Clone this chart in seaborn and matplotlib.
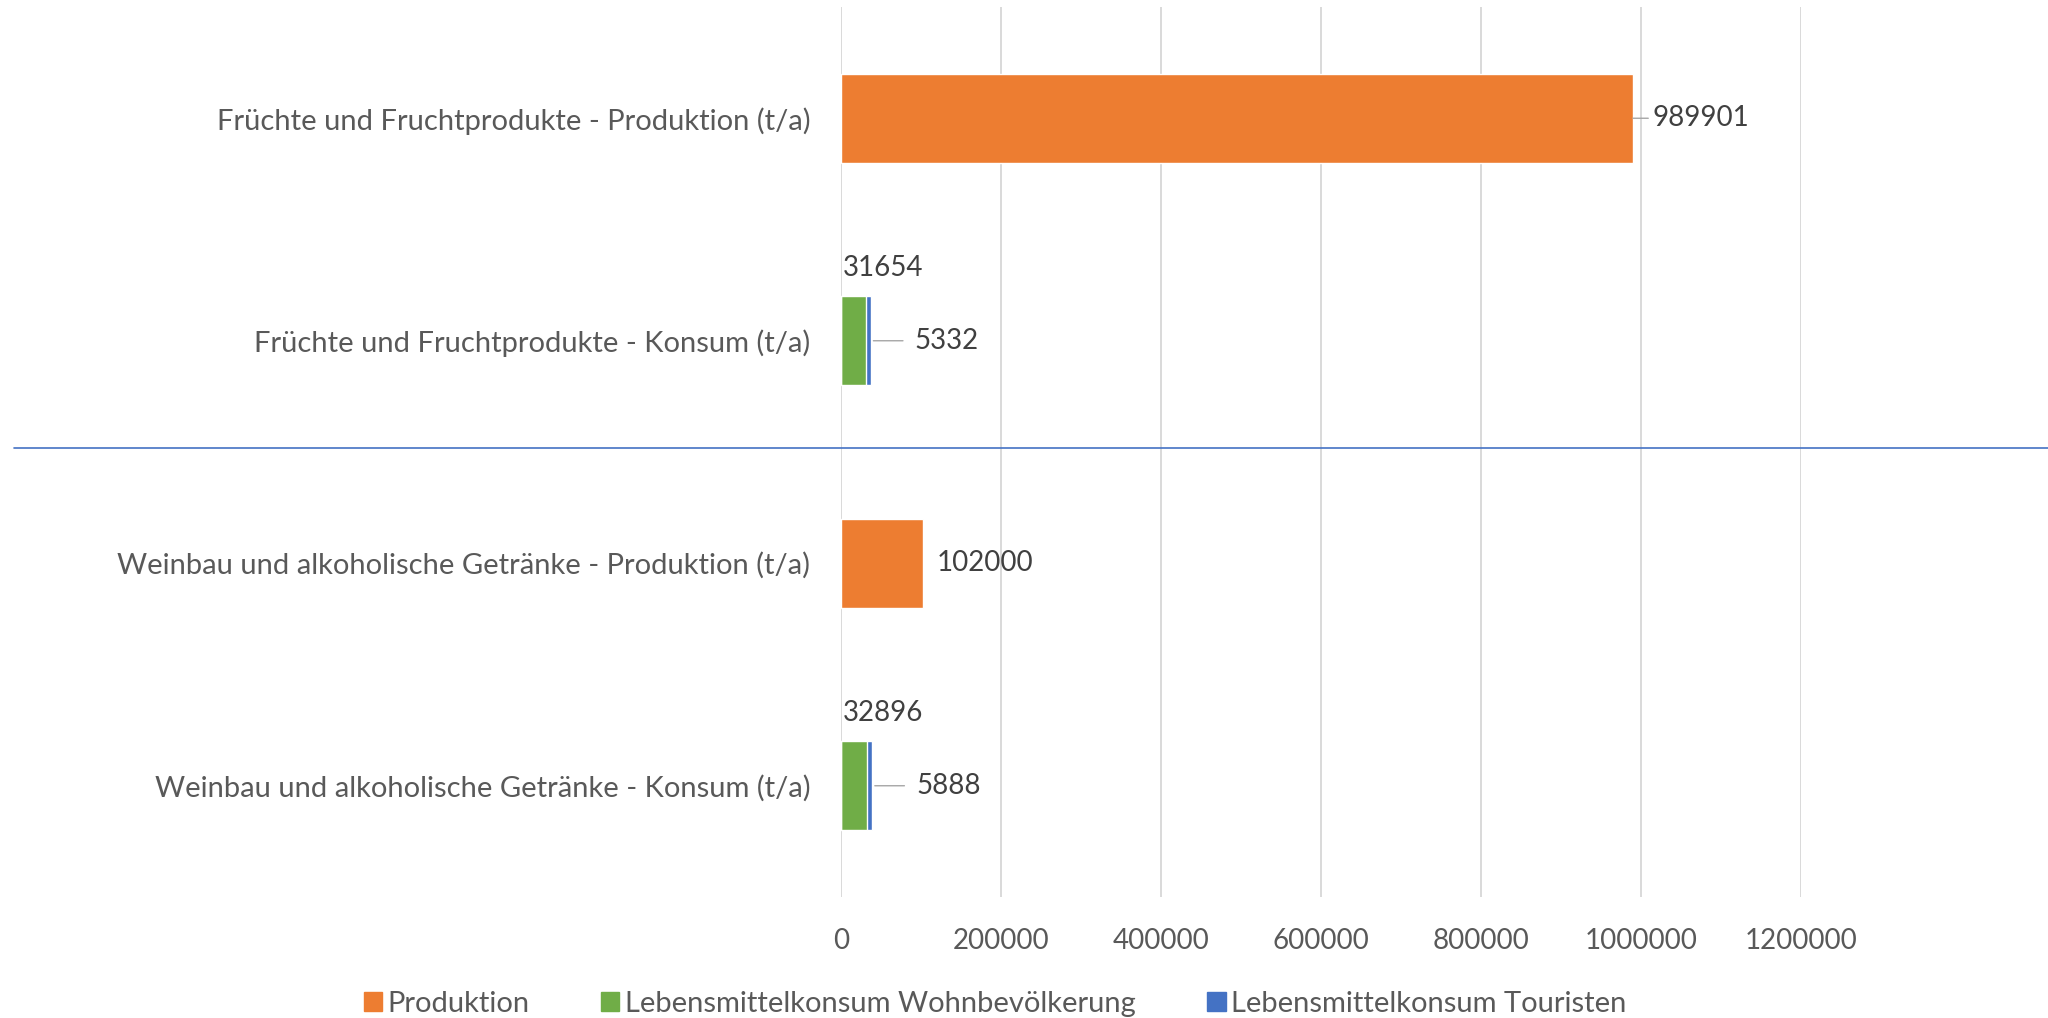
import matplotlib.pyplot as plt
import seaborn as sns
import pandas as pd
import numpy as np
from matplotlib.patches import Patch
from matplotlib.lines import Line2D

# ── Data ────────────────────────────────────────────────
categories = [
    'Früchte und Fruchtprodukte - Produktion (t/a)',
    'Früchte und Fruchtprodukte - Konsum (t/a)',
    'Weinbau und alkoholische Getränke - Produktion (t/a)',
    'Weinbau und alkoholische Getränke - Konsum (t/a)',
]
produktion = [989901, 0, 102000, 0]
wohnbev    = [0, 31654, 0, 32896]
touristen  = [0, 5332, 0, 5888]
x_ticks    = [0, 200000, 400000, 600000, 800000, 1000000, 1200000]

df = pd.DataFrame({'Kategorie': categories, 'Produktion': produktion,
                   'Wohn': wohnbev, 'Tour': touristen})
df['Konsum'] = df['Wohn'] + df['Tour']

C_ORANGE = '#ED7D31'
C_GREEN = '#70AD47'
C_BLUE = '#4472C4'
C_TEXT = '#595959'

sns.set_theme(style='white')
plt.rcParams['font.family'] = ['Lato', 'DejaVu Sans']

fig = plt.figure(figsize=(20.48, 10.18), dpi=100)
ax = fig.add_axes([841 / 2048, 1 - 897 / 1018, 960 / 2048, 890 / 1018])

# stacked bars: total first, lower segment drawn on top
sns.barplot(data=df, y='Kategorie', x='Konsum', color=C_BLUE, width=0.4,
            orient='h', saturation=1, ax=ax)
sns.barplot(data=df, y='Kategorie', x='Wohn', color=C_GREEN, width=0.4,
            orient='h', saturation=1, ax=ax)
sns.barplot(data=df, y='Kategorie', x='Produktion', color=C_ORANGE, width=0.4,
            orient='h', saturation=1, ax=ax)

ax.set_xlim(0, 1200000)
ax.set_xticks(x_ticks)
ax.set_xticklabels([str(t) for t in x_ticks])
ax.set_xlabel('')
ax.set_ylabel('')
ax.grid(axis='x', color='#D9D9D9', linewidth=1.4)
ax.set_axisbelow(True)
for s in ax.spines.values():
    s.set_visible(False)
ax.tick_params(axis='both', length=0, colors=C_TEXT)
ax.tick_params(axis='x', pad=22, labelsize=20)
ax.tick_params(axis='y', pad=22, labelsize=21)

# ── data labels ─────────────────────────────────────────
lbl = dict(fontsize=20, color='#404040', va='center', ha='left')
for i, row in df.iterrows():
    if row['Produktion'] > 0:
        if row['Produktion'] > 500000:
            ax.annotate(str(row['Produktion']), xy=(row['Produktion'], i),
                        xytext=(20, 0), textcoords='offset pixels',
                        arrowprops=dict(arrowstyle='-', color='#A6A6A6',
                                        lw=1, shrinkA=1, shrinkB=0), **lbl)
        else:
            ax.annotate(str(row['Produktion']), xy=(row['Produktion'], i),
                        xytext=(14, 0), textcoords='offset pixels', **lbl)
    if row['Konsum'] > 0:
        ax.annotate(str(row['Wohn']), xy=(0, i), xytext=(2, 73),
                    textcoords='offset pixels', **lbl)
        ax.annotate(str(row['Tour']), xy=(row['Konsum'], i),
                    xytext=(44, 0), textcoords='offset pixels',
                    arrowprops=dict(arrowstyle='-', color='#A6A6A6',
                                    lw=1, shrinkA=6, shrinkB=2), **lbl)

# separator line across the figure
fig.add_artist(Line2D([14 / 2048, 1], [1 - 448 / 1018] * 2,
                      transform=fig.transFigure, color=C_BLUE, lw=1.2))

# ── legend ──────────────────────────────────────────────
handles = [Patch(color=C_ORANGE), Patch(color=C_GREEN), Patch(color=C_BLUE)]
names = ['Produktion', 'Lebensmittelkonsum Wohnbevölkerung',
         'Lebensmittelkonsum Touristen']
fig.legend(handles, names, loc='center', bbox_to_anchor=(0.486, 1 - 1004 / 1018),
           ncol=3, frameon=False, fontsize=21, labelcolor=C_TEXT,
           handlelength=0.62, handleheight=0.62, handletextpad=0.2,
           columnspacing=2.45, borderpad=0)

fig.savefig('out.png', dpi=100)
